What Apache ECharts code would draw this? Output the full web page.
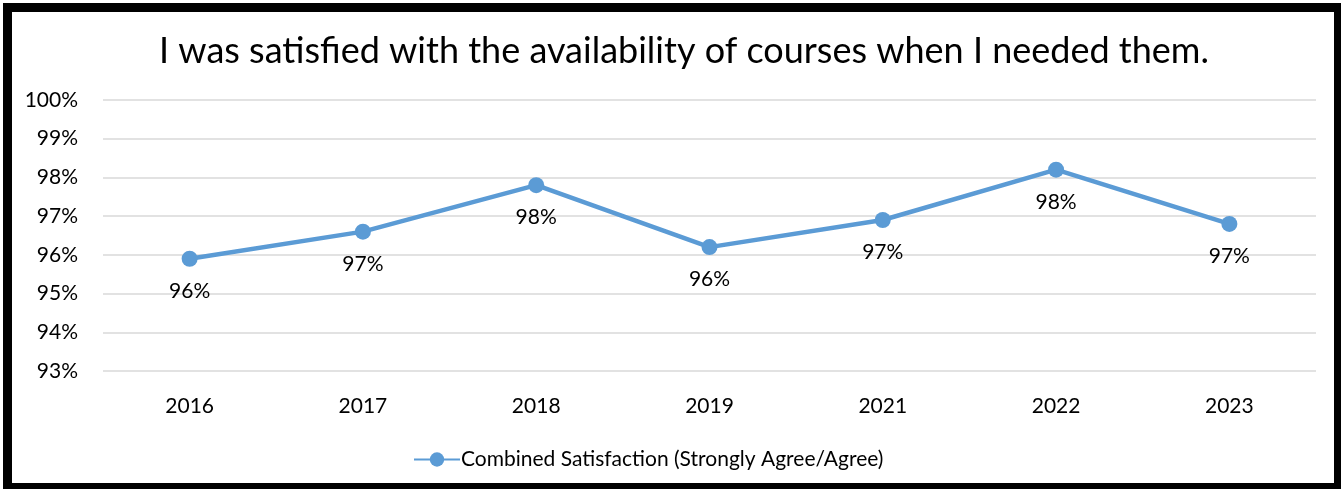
<!DOCTYPE html>
<html>
<head>
<meta charset="utf-8">
<script src="https://cdn.jsdelivr.net/npm/echarts@6/dist/echarts.min.js"></script>
<style>
html,body{margin:0;padding:0;background:#fff;}
#chart{width:1341px;height:489px;}
</style>
</head>
<body>
<div id="chart"></div>
<script>
const titleText = "I was satisfied with the availability of courses when I needed them.";
const categories = ["2016", "2017", "2018", "2019", "2021", "2022", "2023"];
const seriesName = "Combined Satisfaction (Strongly Agree/Agree)";
const values = [95.9, 96.6, 97.8, 96.2, 96.9, 98.2, 96.8];
const yMin = 93, yMax = 100, yStep = 1;

const FONT = "Lato, 'Open Sans', sans-serif";
const chart = echarts.init(document.getElementById('chart'), null, {renderer: 'canvas'});
chart.setOption({
  backgroundColor: '#fff',
  animation: false,
  title: {
    text: titleText,
    left: 679, top: 28,
    textAlign: 'center',
    textStyle: {fontFamily: FONT, fontSize: 36, fontWeight: 'normal', color: '#000'}
  },
  legend: {
    data: [seriesName],
    bottom: 14,
    left: 408,
    itemWidth: 46, itemHeight: 18,
    itemGap: 0,
    textStyle: {fontFamily: FONT, fontSize: 21, color: '#000', padding: [0,0,0,-4]}
  },
  grid: {left: 103, right: 25, top: 100, bottom: 118, containLabel: false},
  xAxis: {
    type: 'category',
    data: categories,
    boundaryGap: true,
    axisLine: {show: false},
    axisTick: {show: false},
    axisLabel: {fontFamily: FONT, fontSize: 21, color: '#000', margin: 25}
  },
  yAxis: {
    type: 'value',
    min: yMin, max: yMax, interval: yStep,
    axisLine: {show: false},
    axisTick: {show: false},
    splitLine: {lineStyle: {color: '#d9d9d9', width: 1.5}},
    axisLabel: {fontFamily: FONT, fontSize: 21, color: '#000', margin: 25, formatter: v => v + '%'}
  },
  series: [{
    name: seriesName,
    type: 'line',
    data: values,
    symbol: 'circle',
    symbolSize: 16,
    lineStyle: {color: '#5B9BD5', width: 4.5},
    itemStyle: {color: '#5B9BD5'},
    label: {
      show: true, position: 'bottom', distance: 14,
      fontFamily: FONT, fontSize: 21, color: '#000',
      formatter: p => Math.round(p.value) + '%'
    }
  }],
  graphic: [{
    type: 'rect', silent: true,
    shape: {x: 7.5, y: 7.5, width: 1331, height: 480},
    style: {fill: 'none', stroke: '#000', lineWidth: 9}
  }]
});
</script>
</body>
</html>
